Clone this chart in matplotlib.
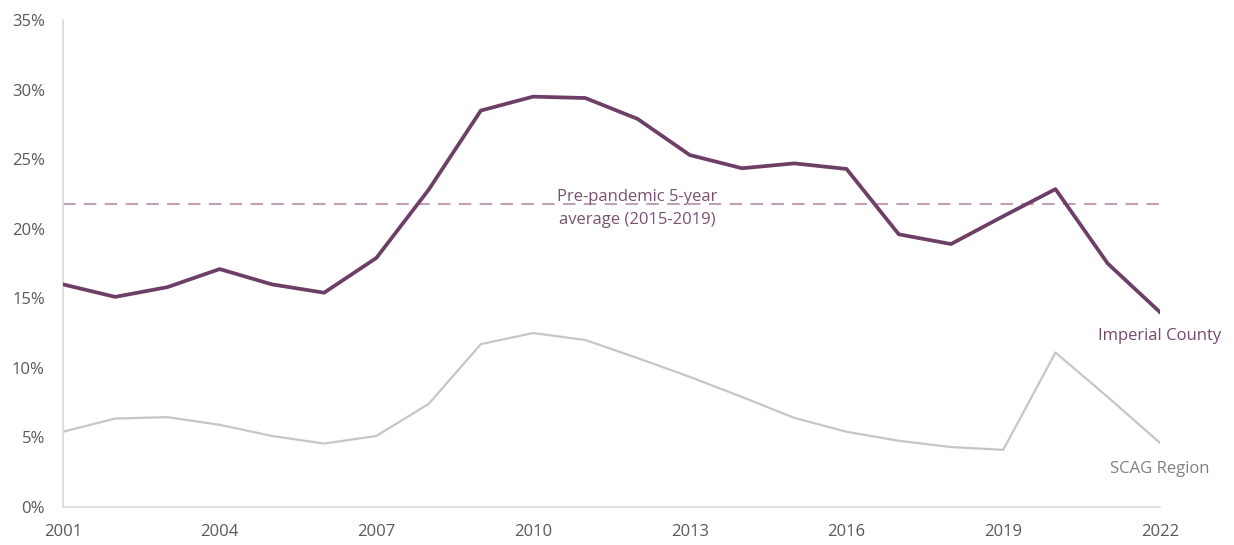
import matplotlib.pyplot as plt
from matplotlib.ticker import FuncFormatter

# DATA
years = list(range(2001, 2023))
imperial = [16.0, 15.1, 15.8, 17.1, 16.0, 15.4, 17.9, 22.8, 28.5, 29.5, 29.4,
            27.9, 25.3, 24.35, 24.7, 24.3, 19.6, 18.9, 20.9, 22.85, 17.5, 14.0]
scag = [5.4, 6.35, 6.45, 5.9, 5.1, 4.55, 5.1, 7.4, 11.7, 12.5, 12.0,
        10.7, 9.35, 7.9, 6.4, 5.4, 4.75, 4.3, 4.1, 11.1, 7.9, 4.6]
pre_pandemic_avg = 21.75
xtick_years = [2001, 2004, 2007, 2010, 2013, 2016, 2019, 2022]
yticks = [0, 5, 10, 15, 20, 25, 30, 35]

plt.rcParams['font.family'] = ['Open Sans', 'DejaVu Sans']

purple = '#6e3f66'
fig = plt.figure(figsize=(12.34, 5.45), dpi=100)
ax = fig.add_axes([0.051, 0.07, 0.889, 0.893])

ax.plot(years, scag, color='#c6c6c6', lw=1.6, zorder=2)
ax.plot(years, imperial, color=purple, lw=2.7, zorder=3)
ax.plot([years[0], years[-1]], [pre_pandemic_avg, pre_pandemic_avg],
        color='#bda2b7', lw=1.5, dashes=(6, 4), zorder=1)

ax.text(2012.0, 21.45, 'Pre-pandemic 5-year\naverage (2015-2019)', color='#7a5170',
        fontsize=12, ha='center', va='center', linespacing=1.6)
ax.text(2022, 12.3, 'Imperial County', color='#74496c', fontsize=12,
        ha='center', va='center')
ax.text(2022, 2.75, 'SCAG Region', color='#808080', fontsize=12,
        ha='center', va='center')

ax.set_xlim(2001, 2022)
ax.set_ylim(0, 35)
ax.set_xticks(xtick_years)
ax.set_yticks(yticks)
ax.yaxis.set_major_formatter(FuncFormatter(lambda v, p: f'{v:.0f}%'))
ax.tick_params(length=0, labelsize=12, colors='#595959')
ax.tick_params(axis='x', pad=12)
ax.tick_params(axis='y', pad=13)
for s in ['top', 'right']:
    ax.spines[s].set_visible(False)
for s in ['left', 'bottom']:
    ax.spines[s].set_color('#d9d9d9')
    ax.spines[s].set_linewidth(1.2)

fig.savefig('out.png', dpi=100)
